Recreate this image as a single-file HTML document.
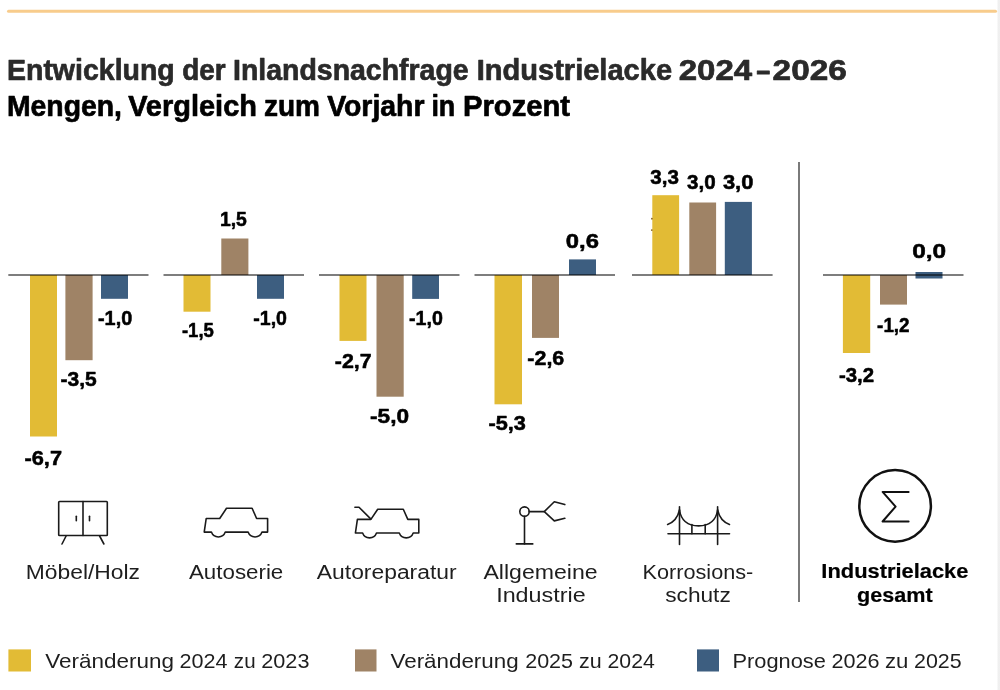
<!DOCTYPE html>
<html lang="de"><head><meta charset="utf-8"><title>Entwicklung der Inlandsnachfrage Industrielacke 2024–2026</title>
<style>
html,body{margin:0;padding:0;background:#fff;}
body{width:1000px;height:690px;overflow:hidden;position:relative;}
svg{position:absolute;left:0;top:0;display:block;}
text{font-family:"Liberation Sans",Arial,sans-serif;}
.b{font-weight:700;}
</style></head><body>
<svg width="1000" height="690" viewBox="0 0 1000 690">
<defs><linearGradient id="rs" x1="0" x2="1" y1="0" y2="0"><stop offset="0" stop-color="#ffffff"/><stop offset="0.33" stop-color="#f0f0f0"/><stop offset="1" stop-color="#efefef"/></linearGradient></defs>
<rect x="997" y="0" width="3" height="690" fill="url(#rs)"/>
<line x1="8.5" y1="11.2" x2="995.5" y2="11.2" stroke="#F8CC8C" stroke-width="3" stroke-linecap="round"/>

<rect x="30.0" y="275.0" width="27.0" height="161.5" fill="#E2BB35"/>
<rect x="65.4" y="275.0" width="27.2" height="85.2" fill="#9F8366"/>
<rect x="101.0" y="275.0" width="27.0" height="23.8" fill="#3D5E80"/>
<rect x="183.5" y="275.0" width="27.0" height="36.7" fill="#E2BB35"/>
<rect x="221.3" y="238.5" width="27.1" height="36.5" fill="#9F8366"/>
<rect x="257.0" y="275.0" width="27.0" height="23.8" fill="#3D5E80"/>
<rect x="339.5" y="275.0" width="27.0" height="65.9" fill="#E2BB35"/>
<rect x="376.5" y="275.0" width="27.2" height="121.7" fill="#9F8366"/>
<rect x="412.2" y="275.0" width="26.8" height="23.9" fill="#3D5E80"/>
<rect x="494.5" y="275.0" width="27.5" height="129.3" fill="#E2BB35"/>
<rect x="532.0" y="275.0" width="27.0" height="62.9" fill="#9F8366"/>
<rect x="569.0" y="259.4" width="27.0" height="15.6" fill="#3D5E80"/>
<rect x="652.3" y="195.2" width="26.8" height="79.8" fill="#E2BB35"/>
<rect x="689.3" y="202.5" width="26.8" height="72.5" fill="#9F8366"/>
<rect x="724.8" y="201.9" width="27.1" height="73.1" fill="#3D5E80"/>
<rect x="842.9" y="275.0" width="27.3" height="78.0" fill="#E2BB35"/>
<rect x="880.0" y="275.0" width="27.0" height="29.6" fill="#9F8366"/>
<rect x="915.5" y="272" width="27" height="6.5" fill="#3D5E80"/>
<rect x="8.3" y="274.1" width="140.2" height="1.8" fill="#000" fill-opacity="0.56"/>
<rect x="163.5" y="274.1" width="140.5" height="1.8" fill="#000" fill-opacity="0.56"/>
<rect x="319.0" y="274.1" width="140.5" height="1.8" fill="#000" fill-opacity="0.56"/>
<rect x="474.5" y="274.1" width="140.5" height="1.8" fill="#000" fill-opacity="0.56"/>
<rect x="632.0" y="274.1" width="140.6" height="1.8" fill="#000" fill-opacity="0.56"/>
<rect x="823.0" y="274.1" width="140.5" height="1.8" fill="#000" fill-opacity="0.56"/>
<circle cx="651.9" cy="218.7" r="0.9" fill="#8a6524"/><circle cx="651.8" cy="230.1" r="0.9" fill="#8a6524"/>
<rect x="798" y="162" width="2" height="440" fill="#7a7a7a"/>
<g fill="none" stroke="#1a1a1a" stroke-width="1.6" stroke-linecap="round" stroke-linejoin="round">
<rect x="58.7" y="501.5" width="48.6" height="34" rx="0.8"/>
<line x1="83" y1="501.5" x2="83" y2="535.5"/>
<line x1="76.3" y1="516.3" x2="76.3" y2="520.8"/>
<line x1="89.5" y1="516.3" x2="89.5" y2="520.8"/>
<line x1="66.1" y1="536" x2="62" y2="544"/>
<line x1="99.6" y1="536" x2="103.9" y2="544"/>
</g>
<path fill="none" stroke="#1a1a1a" stroke-width="1.6" stroke-linecap="round" stroke-linejoin="round" d="M226.5,508.3 L252.1,508.3 L256.6,518.5 L267.6,518.5 L267.6,532.1 L262,532.1
A7.4,7.4 0 0 1 248.1,532.1 L225.3,532.1 A7.4,7.4 0 0 1 211.4,532.1 L204.2,532.1 L206.2,518.5 L219.7,518.5 Z"/>
<path fill="none" stroke="#1a1a1a" stroke-width="1.6" stroke-linecap="round" stroke-linejoin="round" d="M377.7,509.2 L403.29999999999995,509.2 L407.8,519.4 L418.8,519.4 L418.8,533.0 L413.2,533.0
A7.4,7.4 0 0 1 399.29999999999995,533.0 L376.5,533.0 A7.4,7.4 0 0 1 362.6,533.0 L355.4,533.0 L357.4,519.4 L370.9,519.4 Z"/>
<path fill="none" stroke="#1a1a1a" stroke-width="1.6" stroke-linecap="round" stroke-linejoin="round" d="M354.9,507.2 L359,507.2 L370.7,518.9"/>
<g fill="none" stroke="#1a1a1a" stroke-width="1.6" stroke-linecap="round" stroke-linejoin="round">
<circle cx="524.5" cy="511.6" r="4.7"/>
<line x1="524.5" y1="516.3" x2="524.5" y2="543.9"/>
<line x1="516.3" y1="543.9" x2="532.8" y2="543.9"/>
<line x1="529.2" y1="511.6" x2="544.3" y2="511.6"/>
<polyline points="564.8,504.6 554.3,501.7 544.3,511.6 554.3,520.9 564.8,518.3"/>
</g>
<g fill="none" stroke="#1a1a1a" stroke-width="1.6" stroke-linecap="round" stroke-linejoin="round">
<line x1="679.5" y1="506.7" x2="679.5" y2="544.5"/>
<line x1="717.6" y1="506.7" x2="717.6" y2="544.5"/>
<line x1="668" y1="533.8" x2="729.5" y2="533.8"/>
<path d="M679.5,510 Q682,525.9 698.6,525.9 Q715.1,525.9 717.6,510"/>
<path d="M679.5,510 Q677,521 667.6,524.5"/>
<path d="M717.6,510 Q720.1,521 729.5,524.5"/>
<line x1="691.9" y1="524.6" x2="691.9" y2="533.8"/>
<line x1="705.2" y1="524.6" x2="705.2" y2="533.8"/>
</g>
<circle cx="895.1" cy="505.9" r="35.8" fill="none" stroke="#111" stroke-width="2.5"/>
<polyline fill="none" stroke="#111" stroke-width="2" stroke-linecap="round" stroke-linejoin="round" points="908.6,491.9 882.6,491.9 895.6,506.6 882.6,521.5 908.6,521.5"/>
<rect x="8.4" y="649.4" width="22.6" height="22.1" fill="#E2BB35"/>
<rect x="355" y="649.4" width="21.5" height="22.1" fill="#9F8366"/>
<rect x="697" y="649.4" width="22" height="22.1" fill="#3D5E80"/>
<text class="b" x="6.99" y="80.25" font-size="30.4" fill="#2a2a2a" stroke="#2a2a2a" stroke-width="0.7" stroke-linejoin="round" textLength="167.77" lengthAdjust="spacingAndGlyphs">Entwicklung</text>
<text class="b" x="182.19" y="80.25" font-size="30.4" fill="#2a2a2a" stroke="#2a2a2a" stroke-width="0.7" stroke-linejoin="round" textLength="43.43" lengthAdjust="spacingAndGlyphs">der</text>
<text class="b" x="233.00" y="80.25" font-size="30.4" fill="#2a2a2a" stroke="#2a2a2a" stroke-width="0.7" stroke-linejoin="round" textLength="235.66" lengthAdjust="spacingAndGlyphs">Inlandsnachfrage</text>
<text class="b" x="476.69" y="80.25" font-size="30.4" fill="#2a2a2a" stroke="#2a2a2a" stroke-width="0.7" stroke-linejoin="round" textLength="195.37" lengthAdjust="spacingAndGlyphs">Industrielacke</text>
<text class="b" x="678.72" y="80.25" font-size="30.4" fill="#2a2a2a" stroke="#2a2a2a" stroke-width="0.7" stroke-linejoin="round" textLength="73.51" lengthAdjust="spacingAndGlyphs">2024</text>
<text class="b" x="756.44" y="80.85" font-size="30.4" fill="#2a2a2a" stroke="#2a2a2a" stroke-width="1.1" stroke-linejoin="round" textLength="13.56" lengthAdjust="spacingAndGlyphs">–</text>
<text class="b" x="772.58" y="80.25" font-size="30.4" fill="#2a2a2a" stroke="#2a2a2a" stroke-width="0.7" stroke-linejoin="round" textLength="74.24" lengthAdjust="spacingAndGlyphs">2026</text>
<text class="b" x="6.98" y="116.25" font-size="30.4" fill="#000000" stroke="#000000" stroke-width="0.7" stroke-linejoin="round" textLength="115.04" lengthAdjust="spacingAndGlyphs">Mengen,</text>
<text class="b" x="128.14" y="116.25" font-size="30.4" fill="#000000" stroke="#000000" stroke-width="0.7" stroke-linejoin="round" textLength="128.87" lengthAdjust="spacingAndGlyphs">Vergleich</text>
<text class="b" x="263.97" y="116.25" font-size="30.4" fill="#000000" stroke="#000000" stroke-width="0.7" stroke-linejoin="round" textLength="56.05" lengthAdjust="spacingAndGlyphs">zum</text>
<text class="b" x="327.14" y="116.25" font-size="30.4" fill="#000000" stroke="#000000" stroke-width="0.7" stroke-linejoin="round" textLength="97.37" lengthAdjust="spacingAndGlyphs">Vorjahr</text>
<text class="b" x="431.40" y="116.25" font-size="30.4" fill="#000000" stroke="#000000" stroke-width="0.7" stroke-linejoin="round" textLength="23.90" lengthAdjust="spacingAndGlyphs">in</text>
<text class="b" x="462.99" y="116.25" font-size="30.4" fill="#000000" stroke="#000000" stroke-width="0.7" stroke-linejoin="round" textLength="107.01" lengthAdjust="spacingAndGlyphs">Prozent</text>
<text class="b" x="24.48" y="464.93" font-size="21" fill="#000" stroke="#000" stroke-width="0.55" stroke-linejoin="round" textLength="37.52" lengthAdjust="spacingAndGlyphs">-6,7</text>
<text class="b" x="60.47" y="386.33" font-size="21" fill="#000" stroke="#000" stroke-width="0.55" stroke-linejoin="round" textLength="36.23" lengthAdjust="spacingAndGlyphs">-3,5</text>
<text class="b" x="98.00" y="325.43" font-size="21" fill="#000" stroke="#000" stroke-width="0.55" stroke-linejoin="round" textLength="34.21" lengthAdjust="spacingAndGlyphs">-1,0</text>
<text class="b" x="181.91" y="337.43" font-size="21" fill="#000" stroke="#000" stroke-width="0.55" stroke-linejoin="round" textLength="31.93" lengthAdjust="spacingAndGlyphs">-1,5</text>
<text class="b" x="219.89" y="226.42" font-size="21" fill="#000" stroke="#000" stroke-width="0.55" stroke-linejoin="round" textLength="26.94" lengthAdjust="spacingAndGlyphs">1,5</text>
<text class="b" x="253.29" y="325.12" font-size="21" fill="#000" stroke="#000" stroke-width="0.55" stroke-linejoin="round" textLength="33.71" lengthAdjust="spacingAndGlyphs">-1,0</text>
<text class="b" x="334.89" y="368.12" font-size="21" fill="#000" stroke="#000" stroke-width="0.55" stroke-linejoin="round" textLength="36.81" lengthAdjust="spacingAndGlyphs">-2,7</text>
<text class="b" x="370.04" y="422.53" font-size="21" fill="#000" stroke="#000" stroke-width="0.55" stroke-linejoin="round" textLength="38.97" lengthAdjust="spacingAndGlyphs">-5,0</text>
<text class="b" x="409.00" y="325.43" font-size="21" fill="#000" stroke="#000" stroke-width="0.55" stroke-linejoin="round" textLength="33.83" lengthAdjust="spacingAndGlyphs">-1,0</text>
<text class="b" x="488.42" y="430.12" font-size="21" fill="#000" stroke="#000" stroke-width="0.55" stroke-linejoin="round" textLength="37.44" lengthAdjust="spacingAndGlyphs">-5,3</text>
<text class="b" x="527.35" y="364.93" font-size="21" fill="#000" stroke="#000" stroke-width="0.55" stroke-linejoin="round" textLength="36.94" lengthAdjust="spacingAndGlyphs">-2,6</text>
<text class="b" x="565.88" y="247.82" font-size="21" fill="#000" stroke="#000" stroke-width="0.55" stroke-linejoin="round" textLength="33.09" lengthAdjust="spacingAndGlyphs">0,6</text>
<text class="b" x="650.35" y="183.53" font-size="21" fill="#000" stroke="#000" stroke-width="0.55" stroke-linejoin="round" textLength="28.65" lengthAdjust="spacingAndGlyphs">3,3</text>
<text class="b" x="686.99" y="189.12" font-size="21" fill="#000" stroke="#000" stroke-width="0.55" stroke-linejoin="round" textLength="28.59" lengthAdjust="spacingAndGlyphs">3,0</text>
<text class="b" x="722.91" y="189.12" font-size="21" fill="#000" stroke="#000" stroke-width="0.55" stroke-linejoin="round" textLength="30.51" lengthAdjust="spacingAndGlyphs">3,0</text>
<text class="b" x="839.00" y="382.23" font-size="21" fill="#000" stroke="#000" stroke-width="0.55" stroke-linejoin="round" textLength="35.12" lengthAdjust="spacingAndGlyphs">-3,2</text>
<text class="b" x="877.11" y="331.53" font-size="21" fill="#000" stroke="#000" stroke-width="0.55" stroke-linejoin="round" textLength="32.48" lengthAdjust="spacingAndGlyphs">-1,2</text>
<text class="b" x="912.24" y="258.43" font-size="21" fill="#000" stroke="#000" stroke-width="0.55" stroke-linejoin="round" textLength="33.92" lengthAdjust="spacingAndGlyphs">0,0</text>
<text x="25.72" y="578.50" font-size="20" fill="#1e1e1e" textLength="114.30" lengthAdjust="spacingAndGlyphs">Möbel/Holz</text>
<text x="188.99" y="578.60" font-size="20" fill="#1e1e1e" textLength="94.28" lengthAdjust="spacingAndGlyphs">Autoserie</text>
<text x="316.89" y="578.50" font-size="20" fill="#1e1e1e" textLength="139.70" lengthAdjust="spacingAndGlyphs">Autoreparatur</text>
<text x="483.48" y="578.50" font-size="20" fill="#1e1e1e" textLength="114.08" lengthAdjust="spacingAndGlyphs">Allgemeine</text>
<text x="496.17" y="601.50" font-size="20" fill="#1e1e1e" textLength="89.46" lengthAdjust="spacingAndGlyphs">Industrie</text>
<text x="642.60" y="578.50" font-size="20" fill="#1e1e1e" textLength="110.72" lengthAdjust="spacingAndGlyphs">Korrosions-</text>
<text x="665.19" y="601.50" font-size="20" fill="#1e1e1e" textLength="65.60" lengthAdjust="spacingAndGlyphs">schutz</text>
<text class="b" x="821.38" y="577.90" font-size="20" fill="#000" stroke="#000" stroke-width="0.2" stroke-linejoin="round" textLength="147.02" lengthAdjust="spacingAndGlyphs">Industrielacke</text>
<text class="b" x="857.09" y="601.50" font-size="20" fill="#000" stroke="#000" stroke-width="0.2" stroke-linejoin="round" textLength="75.52" lengthAdjust="spacingAndGlyphs">gesamt</text>
<text x="45.27" y="667.50" font-size="21" fill="#1e1e1e" textLength="128.74" lengthAdjust="spacingAndGlyphs">Veränderung</text>
<text x="179.47" y="667.50" font-size="21" fill="#1e1e1e" textLength="48.05" lengthAdjust="spacingAndGlyphs">2024</text>
<text x="233.87" y="667.50" font-size="21" fill="#1e1e1e" textLength="21.70" lengthAdjust="spacingAndGlyphs">zu</text>
<text x="261.29" y="667.50" font-size="21" fill="#1e1e1e" textLength="48.17" lengthAdjust="spacingAndGlyphs">2023</text>
<text x="390.50" y="667.50" font-size="21" fill="#1e1e1e" textLength="128.16" lengthAdjust="spacingAndGlyphs">Veränderung</text>
<text x="525.20" y="667.50" font-size="21" fill="#1e1e1e" textLength="47.85" lengthAdjust="spacingAndGlyphs">2025</text>
<text x="579.02" y="667.50" font-size="21" fill="#1e1e1e" textLength="22.68" lengthAdjust="spacingAndGlyphs">zu</text>
<text x="607.56" y="667.50" font-size="21" fill="#1e1e1e" textLength="47.23" lengthAdjust="spacingAndGlyphs">2024</text>
<text x="732.51" y="667.50" font-size="21" fill="#1e1e1e" textLength="93.29" lengthAdjust="spacingAndGlyphs">Prognose</text>
<text x="831.54" y="667.50" font-size="21" fill="#1e1e1e" textLength="48.09" lengthAdjust="spacingAndGlyphs">2026</text>
<text x="884.94" y="667.50" font-size="21" fill="#1e1e1e" textLength="23.44" lengthAdjust="spacingAndGlyphs">zu</text>
<text x="914.05" y="667.50" font-size="21" fill="#1e1e1e" textLength="47.64" lengthAdjust="spacingAndGlyphs">2025</text>
</svg>
</body></html>
